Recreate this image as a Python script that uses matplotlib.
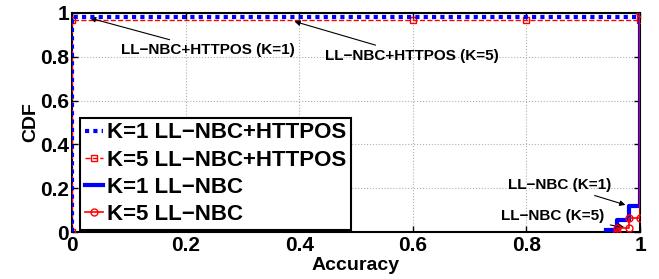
import matplotlib
matplotlib.use("Agg")
import matplotlib.pyplot as plt

plt.rcParams['font.family'] = ['Liberation Sans', 'DejaVu Sans']
plt.rcParams['font.weight'] = 'bold'

# Data (vertices of the step CDFs)
k1_httpos_x = [0.0, 0.0, 1.0]
k1_httpos_y = [0.0, 0.982, 0.982]
k5_httpos_x = [0.0, 0.0, 0.6, 0.8, 1.0, 1.0]
k5_httpos_y = [0.0, 0.968, 0.968, 0.968, 0.968, 1.0]
k1_nbc_x = [0.94, 0.96, 0.96, 0.98, 0.98, 1.0, 1.0]
k1_nbc_y = [0.01, 0.01, 0.055, 0.055, 0.12, 0.12, 1.0]
k5_nbc_x = [0.96, 0.96, 0.98, 0.98, 1.0, 1.0]
k5_nbc_y = [0.0, 0.02, 0.02, 0.065, 0.065, 1.0]

labels = ["K=1 LL\u2212NBC+HTTPOS", "K=5 LL\u2212NBC+HTTPOS", "K=1 LL\u2212NBC", "K=5 LL\u2212NBC"]
ticks = [0, 0.2, 0.4, 0.6, 0.8, 1]
ticklabels = ["0", "0.2", "0.4", "0.6", "0.8", "1"]

fig = plt.figure(figsize=(6.59, 2.79), dpi=100)
ax = fig.add_axes([72/659, 1-232/279, (640-72)/659, (232-13)/279])

l1, = ax.plot(k1_httpos_x, k1_httpos_y, color='#0000ff', linestyle=(0, (1, 1)), linewidth=3, label=labels[0], zorder=4)
l2, = ax.plot(k5_httpos_x, k5_httpos_y, color='#ff0000', linestyle='--', linewidth=1, marker='s',
              markersize=4, markerfacecolor='none', markeredgecolor='#ff0000', label=labels[1], zorder=3)
l3, = ax.plot(k1_nbc_x, k1_nbc_y, color='#0000ff', linestyle='-', linewidth=3, label=labels[2], zorder=3)
l4, = ax.plot(k5_nbc_x, k5_nbc_y, color='#ff0000', linestyle='-', linewidth=1.2, marker='o',
              markersize=5, markerfacecolor='none', markeredgecolor='#ff0000', label=labels[3], zorder=4)

ax.set_xlim(0, 1)
ax.set_ylim(0, 1)
ax.set_xticks(ticks)
ax.set_xticklabels(ticklabels)
ax.set_yticks(ticks)
ax.set_yticklabels(ticklabels)
ax.tick_params(direction='in', length=4, width=1, labelsize=15, top=True, right=True, pad=2)
ax.tick_params(axis='x', pad=3)
for lab in ax.get_xticklabels() + ax.get_yticklabels():
    lab.set_fontweight('bold')
ax.grid(True, linestyle=':', color='#b0b0b0', linewidth=0.8)
for s in ax.spines.values():
    s.set_linewidth(1.5)

ax.set_xlabel("Accuracy", fontsize=14, fontweight='bold', labelpad=1)
ax.set_ylabel("CDF", fontsize=14, fontweight='bold', labelpad=1)

ann = dict(fontsize=11, fontweight='bold', ha='center', va='center',
           arrowprops=dict(arrowstyle='-|>', color='black', lw=0.8, mutation_scale=8))
ax.annotate("LL\u2212NBC+HTTPOS (K=1)", xy=(0.027, 0.98), xytext=(0.24, 0.83), **ann)
ax.annotate("LL\u2212NBC+HTTPOS (K=5)", xy=(0.387, 0.965), xytext=(0.598, 0.805), **ann)
ax.annotate("LL\u2212NBC (K=1)", xy=(0.979, 0.12), xytext=(0.859, 0.215), **ann)
ax.annotate("LL\u2212NBC (K=5)", xy=(0.977, 0.02), xytext=(0.847, 0.073), **ann)

leg = ax.legend(handles=[l1, l2, l3, l4], loc='lower left',
                bbox_to_anchor=((80-72)/568, (232-230)/219),
                prop={'weight': 'bold', 'size': 16},
                handlelength=0.8, handletextpad=0.2, labelspacing=0.28,
                borderpad=0.22, borderaxespad=0, fancybox=False, framealpha=1,
                edgecolor='black')
leg.get_frame().set_linewidth(1.5)

fig.savefig("out.png", dpi=100)
